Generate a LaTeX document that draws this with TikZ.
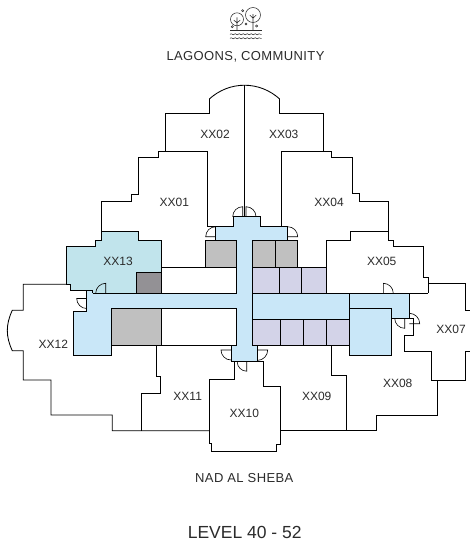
\documentclass[tikz,border=0pt]{standalone}
\usepackage{fontspec}
\setmainfont{Liberation Sans}
\newfontfamily\capsfont[LetterSpace=3]{Liberation Sans}
\usetikzlibrary{decorations.pathmorphing}
\definecolor{corridor}{HTML}{C9E7F8}
\definecolor{lounge}{HTML}{C1E4EC}
\definecolor{shaft}{HTML}{C0C0C0}
\definecolor{darkshaft}{HTML}{939195}
\definecolor{store}{HTML}{D3D3E8}
\definecolor{ink}{HTML}{2B2B2B}
\begin{document}
\begin{tikzpicture}[
    x=1pt,y=-1pt,
    wall/.style={draw=black,line width=0.85pt,line join=miter},
    door/.style={draw=black,line width=0.6pt},
    tree/.style={draw=ink,line width=0.55pt},
    unit/.style={font=\fontsize{12}{12}\selectfont,text=ink,inner sep=0pt},
    heading/.style={font=\capsfont\fontsize{13}{13}\selectfont,text=ink,inner sep=0pt},
    ]
    \useasboundingbox (0,0) rectangle (470,544);
    \fill[lounge] (101.7,231.7) -- (138.7,231.7) -- (138.7,240) -- (161.7,240) -- (161.7,293.3) -- (92.7,293.3) -- (92.7,290.7) -- (70.7,290.7) -- (70.7,284.3) -- (66,284.3) -- (66,246.7) -- (95.7,246.7) -- (95.7,240) -- (101.7,240) -- cycle;
    \fill[corridor] (215.7,226.7) -- (233.3,226.7) -- (233.3,216.7) -- (260,216.7) -- (260,226.7) -- (287.7,226.7) -- (287.7,240) -- (252.3,240) -- (252.3,293.3) -- (409.3,293.3) -- (409.3,318.3) -- (391.7,318.3) -- (391.7,355) -- (349.3,355) -- (349.3,319.3) -- (252.3,319.3) -- (252.3,345) -- (257.3,345) -- (257.3,361.3) -- (231,361.3) -- (231,345) -- (236,345) -- (236,308.3) -- (111.7,308.3) -- (111.7,355) -- (73.3,355) -- (73.3,311.7) -- (86.7,311.7) -- (86.7,290.7) -- (92.7,290.7) -- (92.7,293.3) -- (236,293.3) -- (236,240) -- (215.7,240) -- cycle;
    \filldraw[wall,fill=darkshaft] (136.7,272.3) rectangle (161.7,293.3);
    \filldraw[wall,fill=shaft] (205.3,240) rectangle (236,267.7);
    \filldraw[wall,fill=shaft] (111.7,308.3) rectangle (161.7,345);
    \filldraw[wall,fill=shaft] (252.3,240) rectangle (275,267.7);
    \filldraw[wall,fill=shaft] (275,240) rectangle (297.3,267.7);
    \filldraw[wall,fill=store] (252.3,267.7) rectangle (279.3,293.3);
    \filldraw[wall,fill=store] (279.3,267.7) rectangle (301.7,293.3);
    \filldraw[wall,fill=store] (301.7,267.7) rectangle (326.7,293.3);
    \filldraw[wall,fill=store] (252.3,319.3) rectangle (280,345);
    \filldraw[wall,fill=store] (280,319.3) rectangle (303.7,345);
    \filldraw[wall,fill=store] (303.7,319.3) rectangle (326,345);
    \filldraw[wall,fill=store] (326,319.3) rectangle (349.3,345);
    \draw[wall] (209.3,99) to[bend left=42] (279.7,99);
    \draw[wall] (244.3,85.3) -- (244.3,216.7);
    \draw[wall] (207.3,226.7) -- (207.3,151.3) -- (165,151.3) -- (165,113) -- (209.3,113) -- (209.3,99);
    \draw[wall] (281.7,226.7) -- (281.7,151.3) -- (323.3,151.3) -- (323.3,113) -- (279.7,113) -- (279.7,99);
    \draw[wall] (165,151.3) -- (158.3,151.3) -- (158.3,157.3) -- (138.3,157.3) -- (138.3,194.3) -- (131.7,194.3) -- (131.7,201.7) -- (101.7,201.7) -- (101.7,231.7);
    \draw[wall] (323.3,151.3) -- (331.7,151.3) -- (331.7,157.3) -- (352.3,157.3) -- (352.3,193.3) -- (359.3,193.3) -- (359.3,201.3) -- (388.3,201.3) -- (388.3,231.7);
    \draw[wall] (92.7,293.3) -- (92.7,290.7) -- (70.7,290.7) -- (70.7,284.3) -- (66,284.3) -- (66,246.7) -- (95.7,246.7) -- (95.7,240) -- (101.7,240) -- (101.7,231.7) -- (138.7,231.7) -- (138.7,240) -- (161.7,240) -- (161.7,293.3);
    \draw[wall] (161.7,267.7) -- (205.3,267.7);
    \draw[wall] (207.3,226.7) -- (233.3,226.7) -- (233.3,216.7) -- (260,216.7) -- (260,226.7) -- (287.7,226.7) -- (287.7,240) -- (252.3,240);
    \draw[wall] (215.7,226.7) -- (215.7,240) -- (236,240) -- (236,293.3) -- (92.7,293.3);
    \draw[wall] (86.7,290.7) -- (86.7,311.7) -- (73.3,311.7) -- (73.3,355) -- (111.7,355) -- (111.7,308.3) -- (236,308.3) -- (236,345) -- (161.7,345);
    \draw[wall] (236,345) -- (231,345) -- (231,361.3) -- (263.3,361.3);
    \draw[wall] (252.3,240) -- (252.3,345) -- (257.3,345) -- (257.3,361.3);
    \draw[wall] (252.3,293.3) -- (428.3,293.3);
    \draw[wall] (349.3,293.3) -- (349.3,355) -- (391.7,355) -- (391.7,308.3) -- (349.3,308.3);
    \draw[wall] (252.3,345) -- (349.3,345);
    \draw[wall] (326.7,240) -- (350.7,240) -- (350.7,231.7) -- (388.3,231.7) -- (388.3,240) -- (393.3,240) -- (393.3,246) -- (423,246) -- (423,277.7) -- (428.3,277.7) -- (428.3,293.3);
    \draw[wall] (326.7,240) -- (326.7,267.7);
    \draw[wall] (428.3,283.3) -- (465.7,283.3) -- (465.7,310) -- (470,310);
    \draw[wall] (470,351.7) -- (465.7,351.7) -- (465.7,380) -- (431,380) -- (431,351.7) -- (404.7,351.7) -- (404.7,335.7) -- (413.3,335.7) -- (413.3,318.3) -- (391.7,318.3);
    \draw[wall] (409.3,293.3) -- (409.3,318.3);
    \draw[wall] (437,380) -- (437,415) -- (376.3,415) -- (376.3,430.7) -- (280,430.7);
    \draw[wall] (209,430.7) -- (112.3,430.7) -- (112.3,415) -- (51,415) -- (51,380) -- (23.3,380) -- (23.3,350.7) -- (12.3,350.7) to[bend left=25] (12.3,310.3) -- (23.3,310.3) -- (23.3,284.3) -- (66,284.3);
    \draw[wall] (156.7,345) -- (156.7,376) -- (160.3,376) -- (160.3,393.7) -- (141,393.7) -- (141,430.7);
    \draw[wall] (331.7,345) -- (331.7,375) -- (346,375) -- (346,430.7);
    \draw[wall] (234.3,361.3) -- (234.3,379.3) -- (209,379.3) -- (209,443.3) -- (211.7,443.3) -- (211.7,451.7) -- (276.7,451.7) -- (276.7,444) -- (280,444) -- (280,386.7) -- (263.3,386.7) -- (263.3,361.3);
    \draw[door] (232.7,216.7) arc[start angle=180,end angle=270,radius=10] -- (242.7,216.7);
    \draw[door] (256,216.7) arc[start angle=0,end angle=-90,radius=10] -- (246,216.7);
    \draw[door] (215.7,226.7) arc[start angle=270,end angle=180,radius=10] -- (215.7,236.7);
    \draw[door] (287.7,226.7) arc[start angle=-90,end angle=0,radius=10] -- (287.7,236.7);
    \draw[door] (95.7,293.3) arc[start angle=180,end angle=270,radius=10] -- (105.7,293.3);
    \draw[door] (86.7,298.5) -- (76.7,298.5) arc[start angle=180,end angle=90,radius=10];
    \draw[door] (231,350) -- (221,350) arc[start angle=180,end angle=90,radius=10];
    \draw[door] (257.3,350) -- (267.7,350) arc[start angle=0,end angle=90,radius=10.4];
    \draw[door] (246.7,361.7) -- (246.7,371.2) arc[start angle=90,end angle=180,radius=9.5];
    \draw[door] (383.3,293.3) -- (383.3,283.3) arc[start angle=-90,end angle=0,radius=10];
    \draw[door] (404.7,318.3) -- (404.7,328.3) arc[start angle=90,end angle=180,radius=10];
    \draw[door] (409.3,313.3) arc[start angle=-90,end angle=0,radius=10.4] -- (409.3,323.7);
    \draw[tree] (237,19.3) circle[radius=6.5];
    \draw[tree] (253,15) circle[radius=7.5];
    \draw[tree] (237,17.3) -- (237,30.7) (233.8,20) -- (237,23) -- (240.2,20);
    \draw[tree] (253,14) -- (253,30.7) (249.8,15) -- (253,18.2) -- (256.2,15);
    \draw[tree] (242.7,10.7) circle[radius=1.1] (232.3,26.7) circle[radius=1.1] (246,24) circle[radius=1.1] (256.7,26) circle[radius=1.1];
    \draw[tree] (230,30.7) -- (261.7,30.7);
    \draw[tree,decorate,decoration={snake,amplitude=0.5pt,segment length=4pt}] (230,34.3) -- (261.7,34.3);
    \draw[tree,decorate,decoration={snake,amplitude=0.5pt,segment length=4pt}] (230,38.3) -- (261.7,38.3);
    \node[heading] (lagoons) at (245.5,57) {LAGOONS, COMMUNITY};
    \node[heading] (sheba) at (244.3,478.3) {NAD AL SHEBA};
    \node[heading,font=\rmfamily\fontsize{17.5}{17.5}\selectfont] (level) at (244.7,532.7) {LEVEL 40 - 52};
    \node[unit] (u01) at (174.3,202.7) {XX01};
    \node[unit] (u02) at (215,134.7) {XX02};
    \node[unit] (u03) at (283.7,134.7) {XX03};
    \node[unit] (u04) at (329,202.7) {XX04};
    \node[unit] (u05) at (381.7,261) {XX05};
    \node[unit] (u07) at (451,329.7) {XX07};
    \node[unit] (u08) at (397.7,383.7) {XX08};
    \node[unit] (u09) at (316.7,396) {XX09};
    \node[unit] (u10) at (244.3,413.7) {XX10};
    \node[unit] (u11) at (187.7,396.3) {XX11};
    \node[unit] (u12) at (53.3,344.7) {XX12};
    \node[unit] (u13) at (118,261) {XX13};
\end{tikzpicture}
\end{document}
